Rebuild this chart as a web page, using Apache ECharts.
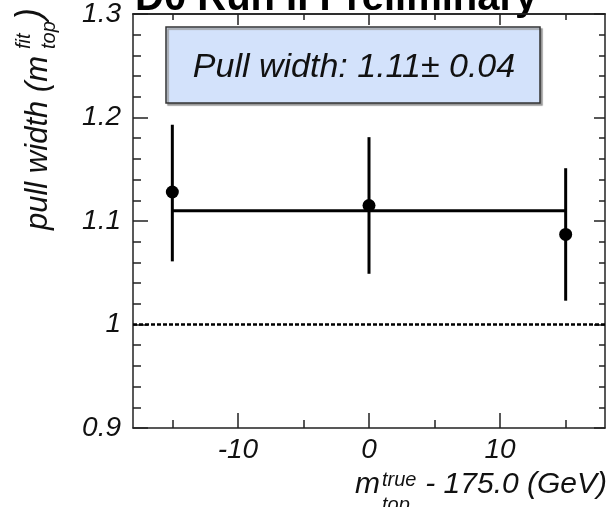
<!DOCTYPE html>
<html>
<head>
<meta charset="utf-8">
<script src="https://cdn.jsdelivr.net/npm/echarts@6/dist/echarts.min.js"></script>
<style>
  html, body { margin: 0; padding: 0; background: #fff; }
  #container { width: 612px; height: 507px; }
</style>
</head>
<body>
<div id="container"></div>
<script>
// mass points (m_top^true - 175 GeV) and pull widths
var massShift = [-15, 0, 15];
var pullWidth = [1.128, 1.115, 1.087];
var errLow = [1.061, 1.049, 1.023];
var errHigh = [1.193, 1.181, 1.151];
// fitted constant
var fitValue = 1.11;
var fitError = 0.04;
var fitRange = [-15, 15];
var refValue = 1;
// axes
var xRange = [-18, 18];
var xMajor = [-10, 0, 10];
var xMinor = [-15, -5, 5, 15];
var yRange = [0.9, 1.3];

var FONT = 'Liberation Sans';
var INK = '#111';

var dom = document.getElementById("container");
var myChart = echarts.init(dom);

function xAxisDef(pos, ticks, len, labels) {
    return {
        type: 'value', position: pos, min: xRange[0], max: xRange[1],
        axisLine: { show: labels !== null || pos === 'top', onZero: false, lineStyle: { color: '#222', width: 1.5 } },
        axisTick: { show: true, inside: true, length: len, customValues: ticks, lineStyle: { color: '#222', width: 1.5 } },
        axisLabel: labels ? {
            show: true, customValues: labels, margin: 8,
            fontFamily: FONT, fontStyle: 'italic', fontSize: 28, color: INK
        } : { show: false },
        splitLine: { show: false }
    };
}
function yAxisDef(pos, len, minorLen, showLabel) {
    return {
        type: 'value', position: pos, min: yRange[0], max: yRange[1], interval: 0.1,
        axisLine: { show: true, onZero: false, lineStyle: { color: '#222', width: 1.5 } },
        axisTick: { show: true, inside: true, length: len, lineStyle: { color: '#222', width: 1.5 } },
        minorTick: { show: true, splitNumber: 5, length: minorLen, lineStyle: { color: '#222', width: 1.5 } },
        axisLabel: {
            show: showLabel, margin: 12,
            fontFamily: FONT, fontStyle: 'italic', fontSize: 28, color: INK
        },
        splitLine: { show: false }
    };
}

var errData = [], ptData = [];
for (var i = 0; i < massShift.length; i++) {
    errData.push([massShift[i], errLow[i], errHigh[i]]);
    ptData.push([massShift[i], pullWidth[i]]);
}

// rotated y axis title with stacked super/subscript
var yTitle = {
    type: 'group', x: 49, y: 230, rotation: Math.PI / 2,
    children: [
        { type: 'text', x: 0, y: -10.8, style: { text: 'pull width (m', font: 'italic 31px ' + FONT, fill: INK, textVerticalAlign: 'middle' } },
        { type: 'text', x: 181, y: -18 - 7, style: { text: 'fit', font: 'italic 20px ' + FONT, fill: INK, textVerticalAlign: 'middle' } },
        { type: 'text', x: 181, y: 7 - 7, style: { text: 'top', font: 'italic 20px ' + FONT, fill: INK, textVerticalAlign: 'middle' } },
        { type: 'text', x: 210, y: -6 - 12.5, style: { text: ')', font: 'italic 36px ' + FONT, fill: INK, textVerticalAlign: 'middle' } }
    ]
};

var option = {
    animation: false,
    grid: { left: 133, top: 8, right: 7, bottom: 79, containLabel: false },
    xAxis: [
        xAxisDef('bottom', xMajor, 15, xMajor),
        xAxisDef('bottom', xMinor, 8, null),
        xAxisDef('top', xMajor, 11, null),
        xAxisDef('top', xMinor, 6, null)
    ],
    yAxis: [
        yAxisDef('left', 15, 8, true),
        yAxisDef('right', 11, 6, false)
    ],
    graphic: [
        { type: 'text', x: 135, y: 13 - 14, style: { text: 'D0 Run II Preliminary', font: 'bold 40px ' + FONT, fill: '#000', textVerticalAlign: 'middle' } },
        {
            type: 'rect', shape: { x: 166, y: 27, width: 374, height: 76 },
            style: { fill: '#d3e2fb', stroke: '#333', lineWidth: 1.5, shadowColor: '#999', shadowOffsetX: 2, shadowOffsetY: 2, shadowBlur: 1 }
        },
        {
            type: 'text', x: 354, y: 68, style: {
                text: 'Pull width: ' + fitValue.toFixed(2) + '\u00b1 ' + fitError.toFixed(2),
                font: 'italic 34px ' + FONT, fill: INK, textAlign: 'center', textVerticalAlign: 'middle'
            }
        },
        yTitle,
        { type: 'text', x: 355, y: 495 - 10.4, style: { text: 'm', font: 'italic 30px ' + FONT, fill: INK, textVerticalAlign: 'middle' } },
        { type: 'text', x: 382, y: 487 - 7, style: { text: 'true', font: 'italic 20px ' + FONT, fill: INK, textVerticalAlign: 'middle' } },
        { type: 'text', x: 382, y: 512 - 7, style: { text: 'top', font: 'italic 20px ' + FONT, fill: INK, textVerticalAlign: 'middle' } },
        { type: 'text', x: 607, y: 495 - 10.4, style: { text: ' - 175.0 (GeV)', font: 'italic 30px ' + FONT, fill: INK, textAlign: 'right', textVerticalAlign: 'middle' } }
    ],
    series: [
        {
            name: 'ref', type: 'line', xAxisIndex: 0, yAxisIndex: 0,
            data: [[xRange[0], refValue], [xRange[1], refValue]],
            symbol: 'none', lineStyle: { color: '#000', width: 2.5, type: [4, 2] }, z: 2
        },
        {
            name: 'fit', type: 'line', xAxisIndex: 0, yAxisIndex: 0,
            data: [[fitRange[0], fitValue], [fitRange[1], fitValue]],
            symbol: 'none', lineStyle: { color: '#000', width: 3 }, z: 3
        },
        {
            name: 'err', type: 'custom', xAxisIndex: 0, yAxisIndex: 0,
            data: errData,
            renderItem: function (params, api) {
                var p1 = api.coord([api.value(0), api.value(1)]);
                var p2 = api.coord([api.value(0), api.value(2)]);
                return {
                    type: 'line',
                    shape: { x1: p1[0], y1: p1[1], x2: p2[0], y2: p2[1] },
                    style: { stroke: '#000', lineWidth: 3 }
                };
            },
            z: 4
        },
        {
            name: 'pull', type: 'scatter', xAxisIndex: 0, yAxisIndex: 0,
            data: ptData, symbol: 'circle', symbolSize: 13,
            itemStyle: { color: '#000', opacity: 1 }, z: 5
        }
    ]
};

if (option && typeof option === "object") {
    myChart.setOption(option, true);
}
</script>
</body>
</html>
